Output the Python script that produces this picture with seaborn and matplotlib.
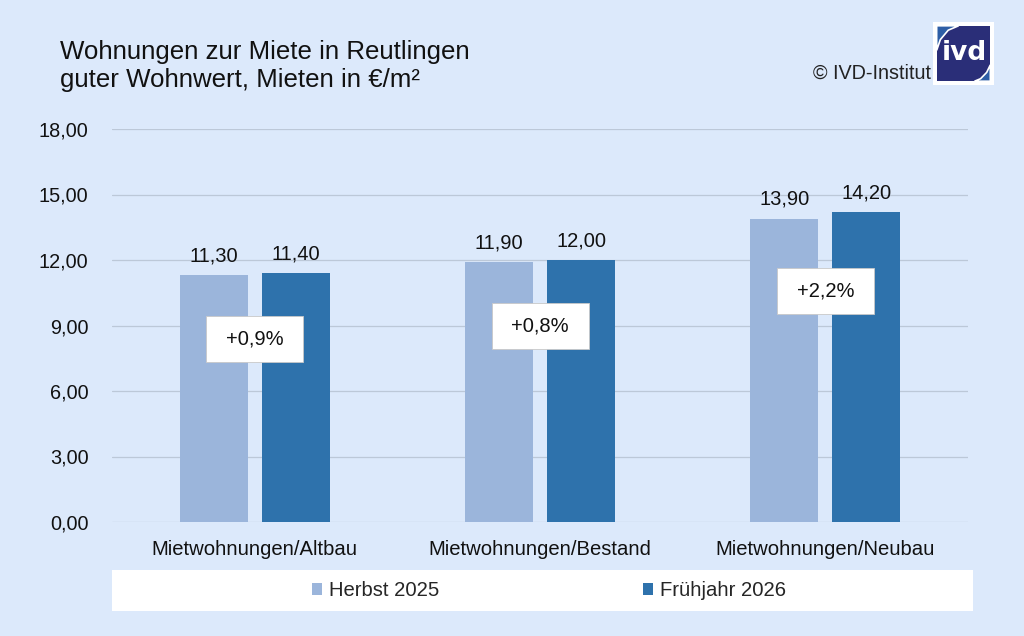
import numpy as np
import pandas as pd
import matplotlib
matplotlib.use("Agg")
import matplotlib.pyplot as plt
import matplotlib.patches as patches
from matplotlib.ticker import FuncFormatter
import seaborn as sns

# ---- data ----
categories = ["Mietwohnungen/Altbau", "Mietwohnungen/Bestand", "Mietwohnungen/Neubau"]
herbst_2025 = [11.30, 11.90, 13.90]
fruehjahr_2026 = [11.40, 12.00, 14.20]
series_names = ["Herbst 2025", "Frühjahr 2026"]
changes = ["+0,9%", "+0,8%", "+2,2%"]
change_label_y = [8.4, 9.0, 10.6]
y_ticks = [0, 3, 6, 9, 12, 15, 18]

BG = "#DCE9FB"
LIGHT = "#9BB5DB"
DARK = "#2E72AC"
GRID = "#BCC8D8"
TXT = "#111111"

df = pd.DataFrame({
    "Kategorie": categories * 2,
    "Serie": [series_names[0]] * 3 + [series_names[1]] * 3,
    "Miete": herbst_2025 + fruehjahr_2026,
})

sns.set_theme(style="white")
plt.rcParams["font.family"] = ["Liberation Sans", "DejaVu Sans"]

W, H = 1024, 636
fig = plt.figure(figsize=(W / 100, H / 100), dpi=100)
fig.patch.set_facecolor(BG)


def px(x0, y_top, w, h):
    """pixel box (top-left origin) -> figure fraction rect"""
    return [x0 / W, 1 - (y_top + h) / H, w / W, h / H]


ax = fig.add_axes(px(112, 129, 856, 393))
ax.set_facecolor(BG)

sns.barplot(data=df, x="Kategorie", y="Miete", hue="Serie",
            palette=[LIGHT, DARK], width=0.575, gap=0.17,
            saturation=1, ax=ax, legend=True, linewidth=0, edgecolor="none", zorder=3)

ax.set_ylim(0, 18)
ax.set_yticks(y_ticks)
ax.yaxis.set_major_formatter(FuncFormatter(lambda v, p: f"{v:.2f}".replace(".", ",")))
ax.grid(axis="y", color=GRID, linewidth=0.9, zorder=0)
ax.set_axisbelow(True)
for s in ax.spines.values():
    s.set_visible(False)
ax.tick_params(axis="y", length=0, pad=17, labelsize=14.3, labelcolor=TXT)
ax.tick_params(axis="x", length=0, pad=13, labelsize=14.6, labelcolor=TXT)
ax.set_xlabel("")
ax.set_ylabel("")

for cont in ax.containers:
    ax.bar_label(cont, labels=[f"{v:.2f}".replace(".", ",") for v in cont.datavalues],
                 padding=7, fontsize=14.5, color=TXT)

# percentage change boxes (97 x 46 px)
box_w = 97 / 856 * 3
box_h = 46 / 393 * 18
for i, (txt, yv) in enumerate(zip(changes, change_label_y)):
    ax.add_patch(patches.Rectangle((i - box_w / 2, yv - box_h / 2), box_w, box_h,
                                   facecolor="white", edgecolor="#C8C8C8", linewidth=0.6,
                                   zorder=5))
    ax.text(i, yv, txt, ha="center", va="center", fontsize=14.5, color=TXT, zorder=6)

# legend inside a white strip
handles, labels = ax.get_legend_handles_labels()
ax.get_legend().remove()
fig.patches.append(patches.Rectangle((112 / W, 1 - 611 / H), 861 / W, 41 / H,
                                     transform=fig.transFigure, facecolor="white",
                                     edgecolor="none", zorder=0))
fig.legend(handles, labels, loc="center", bbox_to_anchor=(549 / W, 1 - 591 / H),
           ncol=2, frameon=False, fontsize=14.6, handlelength=0.5, handleheight=0.55,
           handletextpad=0.35, columnspacing=10.0)

# title
fig.text(60 / W, 1 - 59 / H, "Wohnungen zur Miete in Reutlingen", fontsize=18.6,
         va="baseline", ha="left", color=TXT)
fig.text(60 / W, 1 - 87 / H, "guter Wohnwert, Mieten in €/m²", fontsize=18.6,
         va="baseline", ha="left", color=TXT)
fig.text(931 / W, 1 - 73 / H, "© IVD-Institut", fontsize=14.2, ha="right", va="center",
         color="#222222")

# logo
lax = fig.add_axes(px(933, 22, 61, 63))
lax.set_xlim(0, 1)
lax.set_ylim(0, 1)
lax.axis("off")
lax.add_patch(patches.Rectangle((0, 0), 1, 1, facecolor="white", edgecolor="none"))
lax.add_patch(patches.Rectangle((0.06, 0.06), 0.88, 0.88, facecolor="#2A2E78", edgecolor="none"))
lax.add_patch(patches.Polygon([(0.06, 0.94), (0.06, 0.55), (0.12, 0.72), (0.25, 0.87), (0.42, 0.94)],
                              facecolor="#2D5EA6", edgecolor="white", linewidth=1.2))
lax.add_patch(patches.Polygon([(0.94, 0.06), (0.94, 0.32), (0.88, 0.2), (0.78, 0.1), (0.68, 0.06)],
                              facecolor="#2D5EA6", edgecolor="white", linewidth=1.2))
lax.text(0.52, 0.5, "ivd", ha="center", va="center", fontsize=19, fontweight="bold",
         color="white", family="DejaVu Sans")

fig.savefig("out.png", dpi=100, facecolor=BG)
